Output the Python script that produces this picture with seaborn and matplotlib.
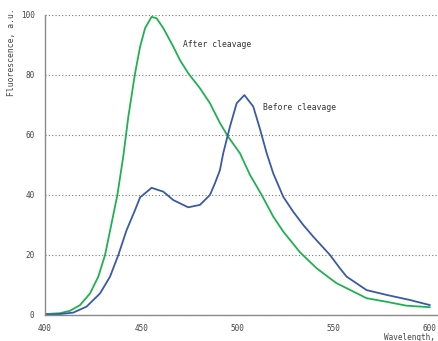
import pandas as pd
import matplotlib
matplotlib.use("Agg")
import matplotlib.pyplot as plt
import seaborn as sns

# values
wl_after = [400, 407.8, 413, 418.2, 423.4, 427.7, 431.2, 434.6, 437.6, 440.7, 443.3, 446.8,
            449.4, 452, 455.4, 458, 461.5, 466.7, 470.1, 474.4, 480.5, 485.7, 490.9, 495.2,
            501.3, 506.5, 512.6, 518.6, 523.8, 532.5, 541.1, 548.1, 551.5, 567.1, 577.5,
            587.9, 600]
after = [0.3, 0.6, 1.4, 3.3, 7.2, 12.8, 20, 30.6, 40, 53, 66.1, 80.6,
         89.4, 95.6, 99.4, 98.9, 95.6, 89.4, 85, 80.6, 75.6, 70.6, 64, 59.4,
         53.9, 46.7, 40, 32.8, 27.8, 20.9, 15.6, 12.2, 10.6, 5.6, 4.4,
         3.1, 2.6]

wl_before = [400, 407.8, 414.7, 421.6, 428.6, 433.8, 438.1, 442.4, 446.8, 449.4, 455.4,
             461.5, 466.7, 474.4, 480.5, 485.7, 488.3, 490.9, 492.6, 496.1, 499.6, 503.6,
             508.2, 511.7, 515.2, 518.6, 523.8, 529, 534.2, 539.4, 548.1, 553.2, 556.7,
             567.1, 577.5, 589.6, 600]
before = [0.2, 0.3, 0.8, 2.8, 7.2, 12.8, 20, 28.3, 35, 39.2, 42.4,
          41.1, 38.3, 35.9, 36.7, 40, 43.9, 48.3, 53.9, 62.8, 70.6, 73.3,
          69.5, 62, 53.9, 47.2, 39.4, 34.4, 30, 26.1, 20, 15.6, 12.8,
          8.3, 6.7, 5, 3.3]

x_ticks = [400, 450, 500, 550, 600]
y_ticks = [0, 20, 40, 60, 80, 100]

green = "#1fb150"
blue = "#3a5aa8"
grey = "#8a8a8a"

df = pd.concat([
    pd.DataFrame({"wl": wl_after, "f": after, "s": "After cleavage"}),
    pd.DataFrame({"wl": wl_before, "f": before, "s": "Before cleavage"}),
])

sns.set_style("white")
plt.rcParams["font.family"] = ["DejaVu Sans Mono"]

fig = plt.figure(figsize=(4.38, 3.41), dpi=100)
ax = fig.add_axes([45 / 438, 26 / 341, 393 / 438, 300 / 341])

sns.lineplot(data=df, x="wl", y="f", hue="s", palette=[green, blue],
             linewidth=1.3, legend=False, ax=ax, estimator=None, sort=False)

ax.set_xlim(400, 604.2)
ax.set_ylim(0, 100)
ax.set_xticks(x_ticks)
ax.set_yticks(y_ticks)
ax.tick_params(labelsize=5.5, colors="#444444", length=6, width=0.8, pad=1.5)
ax.tick_params(axis="x", pad=0.5)
ax.tick_params(axis="both", color=grey)
ax.yaxis.grid(True, linestyle=(0, (1, 2)), color="#777777", linewidth=0.8)
ax.xaxis.grid(False)
for side in ["top", "right"]:
    ax.spines[side].set_visible(False)
for side in ["left", "bottom"]:
    ax.spines[side].set_color(grey)
    ax.spines[side].set_linewidth(1.0)

ax.set_xlabel("")
ax.set_ylabel("")
fig.text(12 / 438, 1 - 8 / 341, "Fluorescence, a.u.", rotation=90, ha="center",
         va="top", fontsize=5.8, color="#444444")
fig.text(384 / 438, 1 - 337.5 / 341, "Wavelength,", ha="left", va="center",
         fontsize=5.5, color="#444444")

ax.text(471.7, 90.3, "After cleavage", fontsize=5.8, color="#333333", va="center")
ax.text(513.2, 69.3, "Before cleavage", fontsize=5.8, color="#333333", va="center")

fig.savefig("out.png", dpi=100)
